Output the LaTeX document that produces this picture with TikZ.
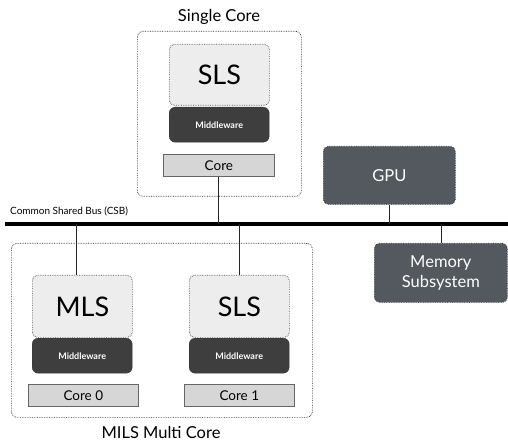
\documentclass[tikz,border=0pt]{standalone}
\usepackage{fontspec}
\setmainfont{Lato}
\definecolor{lightbox}{HTML}{EDEDED}
\definecolor{midware}{HTML}{3E3E3E}
\definecolor{corefill}{HTML}{D6D6D6}
\definecolor{slate}{HTML}{545960}
\begin{document}
\begin{tikzpicture}[x=1pt,y=-1pt,
  group/.style={draw=black!85, densely dotted, rounded corners=6pt, line width=0.7pt},
  sysbox/.style={draw=black!70, densely dotted, fill=lightbox, rounded corners=5pt, line width=0.7pt, font=\fontsize{27}{30}\selectfont},
  mwbox/.style={draw=black!80, fill=midware, rounded corners=6pt, text=white, font=\bfseries\fontsize{9}{11}\selectfont},
  corebox/.style={draw=black!60, fill=corefill, line width=0.7pt, font=\fontsize{13.5}{15}\selectfont},
  hwbox/.style={draw=black!85, densely dotted, fill=slate, rounded corners=5pt, text=white, align=center, line width=0.7pt, font=\fontsize{16.5}{20}\selectfont},
  link/.style={line width=1pt, black!85},
  title/.style={font=\fontsize{16.5}{20}\selectfont}]
\useasboundingbox (0,0) rectangle (508,443);
% Single core group
\node[group, minimum width=164, minimum height=165, anchor=north west] (sc) at (137,31) {};
\node[title] (sctitle) at (219,17) {Single Core};
\node[sysbox, minimum width=100, minimum height=61, anchor=north west] (sls1) at (169,44) {SLS};
\node[mwbox, minimum width=100, minimum height=35, anchor=north west] (mw1) at (169,107) {Middleware};
\node[corebox, minimum width=111, minimum height=22, anchor=north west, inner sep=0pt] (core) at (163,154) {Core};
% Bus
\coordinate (busL) at (5,224);
\coordinate (busR) at (508,224);
\draw[line width=4pt] (busL) -- (busR);
\node[anchor=west, font=\fontsize{10}{12}\selectfont, inner sep=0pt] (csb) at (10,211) {Common Shared Bus (CSB)};
% MILS multi core group
\node[group, minimum width=301, minimum height=174, anchor=north west] (mc) at (11,243) {};
\node[title] (mctitle) at (161,432) {MILS Multi Core};
\node[sysbox, minimum width=100, minimum height=62, anchor=north west] (mls) at (32,275) {MLS};
\node[mwbox, minimum width=100, minimum height=35, anchor=north west] (mw2) at (32,338) {Middleware};
\node[corebox, minimum width=110, minimum height=22, anchor=north west, inner sep=0pt] (core0) at (28,384) {Core 0};
\node[sysbox, minimum width=100, minimum height=62, anchor=north west] (sls2) at (189,275) {SLS};
\node[mwbox, minimum width=100, minimum height=35, anchor=north west] (mw3) at (189,338) {Middleware};
\node[corebox, minimum width=110, minimum height=22, anchor=north west, inner sep=0pt] (core1) at (184,384) {Core 1};
% Hardware
\node[hwbox, minimum width=132, minimum height=58, anchor=north west] (gpu) at (323,146) {GPU};
\node[hwbox, minimum width=133, minimum height=59, anchor=north west, inner sep=0pt] (mem) at (374,243) {Memory\\Subsystem};
% Links
\coordinate (b1) at (218,224);
\coordinate (b2) at (76,224);
\coordinate (b3) at (239,224);
\coordinate (b4) at (389,224);
\coordinate (b5) at (441,224);
\draw[link] (core.south -| b1) -- (b1);
\draw[link] (b2) -- (b2 |- mls.north);
\draw[link] (b3) -- (b3 |- sls2.north);
\draw[link] (gpu.south -| b4) -- (b4);
\draw[link] (b5) -- (b5 |- mem.north);
\end{tikzpicture}
\end{document}
